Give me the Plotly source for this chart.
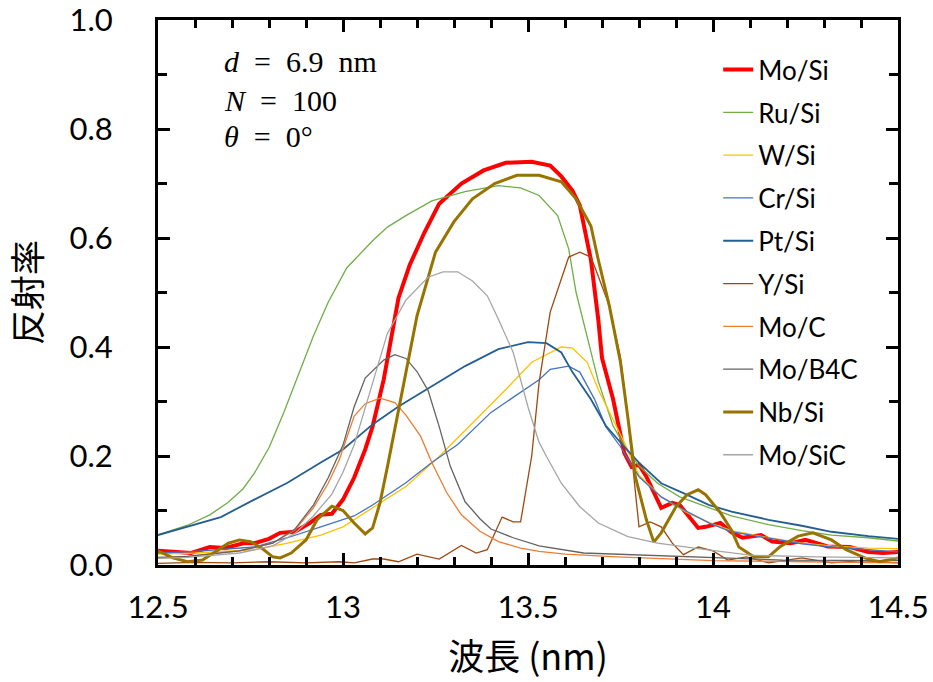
import plotly.graph_objects as go

# ---------------- data ----------------
mosi_x = [12.50, 12.54, 12.59, 12.64, 12.68, 12.73, 12.76, 12.80, 12.83, 12.87, 12.91, 12.94, 12.97, 13.00,
          13.03, 13.06, 13.08, 13.11, 13.15, 13.18, 13.22, 13.26, 13.32, 13.38, 13.44, 13.51, 13.56, 13.59,
          13.62, 13.64, 13.67, 13.69, 13.70, 13.73, 13.76, 13.78, 13.80, 13.82, 13.86, 13.89, 13.91, 13.96,
          13.98, 14.02, 14.05, 14.08, 14.13, 14.16, 14.21, 14.25, 14.31, 14.37, 14.42, 14.46, 14.50]
mosi_y = [0.026, 0.024, 0.022, 0.033, 0.031, 0.040, 0.040, 0.048, 0.059, 0.061, 0.077, 0.092, 0.094, 0.120,
          0.160, 0.212, 0.254, 0.340, 0.490, 0.550, 0.610, 0.663, 0.700, 0.724, 0.738, 0.740, 0.733, 0.713,
          0.687, 0.660, 0.560, 0.450, 0.380, 0.304, 0.206, 0.180, 0.184, 0.162, 0.105, 0.114, 0.110, 0.068,
          0.070, 0.077, 0.060, 0.050, 0.055, 0.043, 0.040, 0.046, 0.034, 0.033, 0.024, 0.022, 0.024]

rusi_x = [12.50, 12.58, 12.64, 12.69, 12.73, 12.76, 12.80, 12.84, 12.88, 12.92, 12.96, 13.01, 13.08, 13.12,
          13.17, 13.20, 13.24, 13.33, 13.42, 13.48, 13.53, 13.58, 13.61, 13.63, 13.66, 13.69, 13.73, 13.77,
          13.80, 13.85, 13.91, 13.98, 14.05, 14.15, 14.24, 14.32, 14.42, 14.50]
rusi_y = [0.055, 0.073, 0.092, 0.115, 0.140, 0.168, 0.215, 0.280, 0.350, 0.420, 0.482, 0.545, 0.595, 0.620,
          0.641, 0.652, 0.668, 0.685, 0.696, 0.692, 0.678, 0.641, 0.580, 0.500, 0.420, 0.337, 0.255, 0.208,
          0.182, 0.150, 0.125, 0.108, 0.090, 0.074, 0.063, 0.055, 0.050, 0.044]

wsi_x = [12.50, 12.60, 12.76, 12.85, 12.94, 13.00, 13.08, 13.17, 13.26, 13.35, 13.44, 13.51, 13.59, 13.62,
         13.66, 13.69, 13.73, 13.76, 13.80, 13.86, 13.93, 14.00, 14.05, 14.15, 14.24, 14.32, 14.42, 14.50]
wsi_y = [0.020, 0.022, 0.028, 0.040, 0.055, 0.070, 0.105, 0.144, 0.199, 0.260, 0.322, 0.372, 0.400, 0.398,
         0.372, 0.322, 0.267, 0.225, 0.165, 0.125, 0.096, 0.075, 0.063, 0.050, 0.040, 0.035, 0.031, 0.030]

crsi_x = [12.50, 12.60, 12.76, 12.85, 12.94, 13.03, 13.08, 13.17, 13.24, 13.31, 13.40, 13.49, 13.53, 13.56,
          13.61, 13.64, 13.68, 13.71, 13.75, 13.80, 13.86, 13.93, 13.99, 14.05, 14.15, 14.24, 14.32, 14.42, 14.50]
crsi_y = [0.022, 0.025, 0.033, 0.050, 0.070, 0.090, 0.110, 0.151, 0.188, 0.221, 0.280, 0.322, 0.340, 0.359,
          0.365, 0.354, 0.304, 0.254, 0.217, 0.162, 0.125, 0.098, 0.077, 0.061, 0.050, 0.039, 0.033, 0.028, 0.024]

ptsi_x = [12.50, 12.58, 12.67, 12.76, 12.85, 12.94, 13.00, 13.08, 13.15, 13.24, 13.33, 13.42, 13.50, 13.55,
          13.59, 13.62, 13.67, 13.71, 13.76, 13.80, 13.86, 13.92, 13.99, 14.05, 14.15, 14.24, 14.32, 14.42, 14.50]
ptsi_y = [0.055, 0.070, 0.088, 0.120, 0.151, 0.188, 0.212, 0.258, 0.291, 0.328, 0.365, 0.396, 0.409, 0.407,
          0.390, 0.354, 0.304, 0.256, 0.217, 0.188, 0.150, 0.132, 0.110, 0.098, 0.083, 0.072, 0.061, 0.053, 0.048]

ysi_x = [12.50, 12.60, 12.70, 12.80, 12.90, 12.99, 13.03, 13.08, 13.11, 13.15, 13.20, 13.26, 13.32, 13.36,
         13.39, 13.43, 13.46, 13.48, 13.51, 13.53, 13.56, 13.59, 13.61, 13.64, 13.67, 13.69, 13.72, 13.75,
         13.77, 13.785, 13.80, 13.83, 13.86, 13.89, 13.92, 13.96, 14.00, 14.04, 14.09, 14.15, 14.24, 14.32,
         14.40, 14.50]
ysi_y = [0.003, 0.005, 0.004, 0.006, 0.004, 0.006, 0.004, 0.011, 0.011, 0.006, 0.020, 0.011, 0.036, 0.022,
         0.028, 0.088, 0.079, 0.079, 0.200, 0.335, 0.464, 0.525, 0.565, 0.574, 0.565, 0.530, 0.475, 0.380,
         0.270, 0.169, 0.070, 0.079, 0.070, 0.040, 0.019, 0.033, 0.026, 0.009, 0.015, 0.004, 0.013, 0.004,
         0.008, 0.004]

moc_x = [12.50, 12.58, 12.72, 12.81, 12.87, 12.92, 12.96, 12.99, 13.03, 13.06, 13.10, 13.14, 13.17, 13.21,
         13.24, 13.28, 13.32, 13.37, 13.42, 13.48, 13.53, 13.60, 13.74, 14.00, 14.25, 14.50]
moc_y = [0.012, 0.016, 0.026, 0.040, 0.064, 0.105, 0.150, 0.193, 0.273, 0.296, 0.306, 0.298, 0.275, 0.236,
         0.188, 0.133, 0.092, 0.062, 0.043, 0.031, 0.025, 0.020, 0.015, 0.008, 0.006, 0.004]

mob4c_x = [12.50, 12.58, 12.72, 12.81, 12.87, 12.92, 12.96, 13.00, 13.03, 13.06, 13.11, 13.14, 13.17, 13.20,
           13.23, 13.26, 13.29, 13.33, 13.37, 13.40, 13.46, 13.53, 13.65, 13.92, 14.19, 14.50]
mob4c_y = [0.014, 0.016, 0.026, 0.040, 0.066, 0.110, 0.160, 0.220, 0.290, 0.343, 0.376, 0.386, 0.379, 0.355,
           0.320, 0.254, 0.181, 0.116, 0.085, 0.066, 0.050, 0.035, 0.022, 0.015, 0.009, 0.008]

nbsi_x = [12.50, 12.54, 12.58, 12.62, 12.65, 12.69, 12.72, 12.75, 12.78, 12.81, 12.83, 12.86, 12.90, 12.93,
          12.97, 13.00, 13.03, 13.06, 13.08, 13.10, 13.12, 13.14, 13.16, 13.20, 13.25, 13.30, 13.35, 13.41,
          13.47, 13.53, 13.59, 13.63, 13.67, 13.69, 13.72, 13.75, 13.77, 13.79, 13.82, 13.84, 13.86, 13.90,
          13.93, 13.96, 13.98, 14.02, 14.05, 14.07, 14.11, 14.15, 14.18, 14.23, 14.27, 14.32, 14.36, 14.41,
          14.45, 14.50]
nbsi_y = [0.026, 0.013, 0.006, 0.009, 0.022, 0.040, 0.046, 0.043, 0.031, 0.015, 0.013, 0.022, 0.046, 0.083,
          0.108, 0.100, 0.077, 0.057, 0.068, 0.114, 0.180, 0.250, 0.320, 0.457, 0.574, 0.630, 0.672, 0.700,
          0.715, 0.715, 0.703, 0.672, 0.622, 0.560, 0.475, 0.372, 0.270, 0.162, 0.083, 0.042, 0.059, 0.107,
          0.129, 0.138, 0.129, 0.096, 0.064, 0.033, 0.015, 0.015, 0.033, 0.053, 0.059, 0.046, 0.028, 0.013,
          0.006, 0.013]

mosic_x = [12.50, 12.58, 12.72, 12.81, 12.87, 12.92, 12.97, 13.00, 13.03, 13.08, 13.12, 13.17, 13.23, 13.27,
           13.31, 13.35, 13.39, 13.42, 13.46, 13.50, 13.53, 13.55, 13.59, 13.64, 13.69, 13.77, 13.85, 13.96,
           14.10, 14.28, 14.50]
mosic_y = [0.012, 0.014, 0.022, 0.035, 0.058, 0.090, 0.130, 0.170, 0.220, 0.335, 0.425, 0.486, 0.528, 0.538,
           0.538, 0.521, 0.494, 0.451, 0.390, 0.290, 0.225, 0.199, 0.150, 0.107, 0.077, 0.052, 0.040, 0.030,
           0.018, 0.015, 0.013]

series_names = ["Mo/Si", "Ru/Si", "W/Si", "Cr/Si", "Pt/Si", "Y/Si", "Mo/C", "Mo/B4C", "Nb/Si", "Mo/SiC"]
series_x = [mosi_x, rusi_x, wsi_x, crsi_x, ptsi_x, ysi_x, moc_x, mob4c_x, nbsi_x, mosic_x]
series_y = [mosi_y, rusi_y, wsi_y, crsi_y, ptsi_y, ysi_y, moc_y, mob4c_y, nbsi_y, mosic_y]
series_colors = ["#FF0000", "#70AD47", "#FFC000", "#4472C4", "#255E91",
                 "#9E480E", "#ED7D31", "#636363", "#997300", "#A5A5A5"]
series_widths = [4, 1.3, 1.3, 1.3, 1.8, 1.3, 1.3, 1.3, 3, 1.3]

x_ticks = [12.5, 13, 13.5, 14, 14.5]
y_ticks = [0.0, 0.2, 0.4, 0.6, 0.8, 1.0]

# ---------------- figure ----------------
fig = go.Figure()
for name, xs, ys, c, w in zip(series_names, series_x, series_y, series_colors, series_widths):
    fig.add_trace(go.Scatter(x=xs, y=ys, mode="lines", name=name, legendgroup=name,
                             line=dict(color=c, width=w)))

tick_font = dict(family="Lato, 'Open Sans', sans-serif", size=31, color="black")
axis_common = dict(showline=True, linecolor="black", linewidth=3, mirror="allticks",
                   ticks="inside", ticklen=12, tickwidth=3, tickcolor="black",
                   showgrid=False, zeroline=False, tickfont=tick_font, automargin=False,
                   ticklabeloverflow="allow")

fig.update_layout(
    width=933, height=682,
    margin=dict(l=158, r=35, t=20, b=117),
    paper_bgcolor="white", plot_bgcolor="white",
    font=dict(family="Lato, 'Noto Sans CJK JP', sans-serif", color="black"),
    xaxis=dict(range=[12.5, 14.5], tickvals=x_ticks, ticktext=[f"{v:g}" for v in x_ticks],
               ticklabelstandoff=13,
               minor=dict(ticks="inside", dtick=0.1, tick0=12.5, ticklen=8, tickwidth=3, tickcolor="black"),
               title=dict(text="波長 (nm)", standoff=21,
                          font=dict(family="'Noto Sans CJK JP', sans-serif", size=36)),
               **axis_common),
    yaxis=dict(range=[0, 1.0], tickvals=y_ticks, ticktext=[f"{v:.1f}" for v in y_ticks],
               ticklabelstandoff=36,
               minor=dict(ticks="inside", dtick=0.1, tick0=0, ticklen=9, tickwidth=3, tickcolor="black"),
               title=dict(text="反射率", standoff=20,
                          font=dict(family="'Noto Sans CJK JP', sans-serif", size=35)),
               **axis_common),
    legend=dict(x=0.757, xanchor="left", y=0.952, yanchor="top",
                font=dict(family="Lato, 'Open Sans', sans-serif", size=26, color="black"),
                bgcolor="rgba(0,0,0,0)", tracegroupgap=6, itemwidth=30),
    showlegend=True,
)

ann_font = dict(family="'Liberation Serif', 'DejaVu Serif', serif", size=30, color="black")
ann_lines = ["<i>d</i>  =  6.9  nm", "<i>N</i>  =  100", "<i>θ</i>  =  0°"]
ann_y = [0.924, 0.853, 0.787]
for t, yy in zip(ann_lines, ann_y):
    fig.add_annotation(text=t, xref="paper", yref="paper", x=0.087, y=yy,
                       xanchor="left", yanchor="middle", showarrow=False, font=ann_font)

fig.write_html("out.html")
